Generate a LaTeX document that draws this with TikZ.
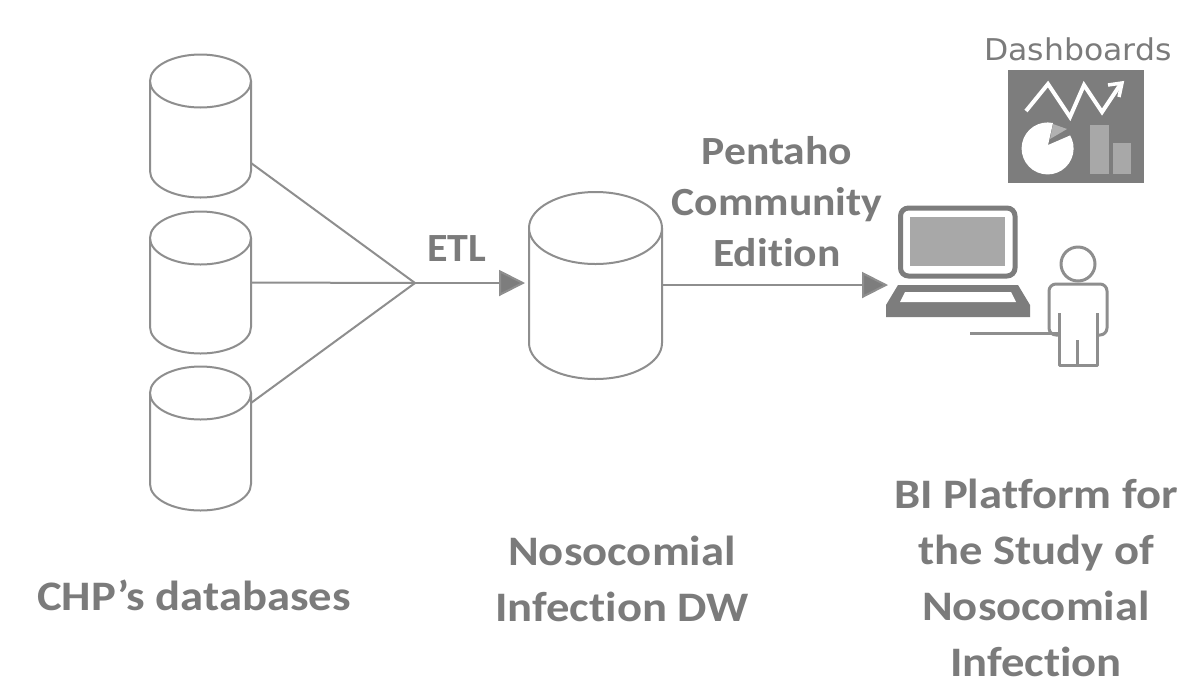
\documentclass[tikz,border=0pt]{standalone}
\usepackage{fontspec}
\setmainfont{Carlito}
\newfontfamily\widefont[FakeStretch=1.11,RawFeature={-liga;-dlig;-clig}]{Carlito}
\newfontfamily\midfont[FakeStretch=1.09,RawFeature={-liga;-dlig;-clig}]{Carlito}
\newfontfamily\etlfont[FakeStretch=1.05]{Carlito}
\newfontfamily\dashfont[FakeStretch=1.05]{DejaVu Sans}
\usetikzlibrary{arrows.meta,calc}
\definecolor{linegray}{HTML}{8E8E8E}
\definecolor{textgray}{HTML}{7B7B7B}
\definecolor{darkgray}{HTML}{7D7D7D}
\definecolor{screengray}{HTML}{A8A8A8}
\tikzset{
  cylbox/.style={inner sep=0pt,outer sep=0pt,minimum width=#1},
  cylline/.style={draw=linegray,line width=2pt,fill=white},
  conn/.style={draw=linegray,line width=2pt},
  connarrow/.style={conn,-{Triangle[length=26pt,width=26pt,fill=darkgray]}},
  boldlabel/.style={font=\widefont\fontsize{42}{56}\selectfont\bfseries,text=textgray,align=center,inner sep=0pt},
  midlabel/.style={font=\midfont\fontsize{40}{51}\selectfont\bfseries,text=textgray,align=center,inner sep=0pt},
  iconline/.style={draw=darkgray,line width=5pt,line join=round},
  personline/.style={draw=linegray,line width=3pt,line join=round},
}
% name, cx, top-ellipse centre y, bottom-ellipse centre y, half width, half height of the ellipse
\newcommand{\dbcyl}[6]{%
  \node[cylbox=#5*2pt,minimum height=#4pt-#3pt] (#1) at (#2,{(#3+#4)/2}) {};
  \draw[cylline] (#2-#5,#3) -- (#2-#5,#4) arc[start angle=180,end angle=360,x radius=#5,y radius=-#6] -- (#2+#5,#3);
  \draw[cylline] (#2,#3) ellipse[x radius=#5,y radius=#6];
}
\begin{document}
\begin{tikzpicture}[x=1pt,y=-1pt]
\useasboundingbox (0,0) rectangle (1196,689);
\fill[white] (0,0) rectangle (1196,689);

% databases
\dbcyl{dbone}{200.5}{81}{171}{50.5}{26.5}
\dbcyl{dbtwo}{200.5}{238}{327}{50.5}{26.5}
\dbcyl{dbthree}{200.5}{393}{484}{50.5}{26.5}
\dbcyl{dw}{595.5}{228}{343}{66.5}{36}

\coordinate (hub) at (415,283);
\coordinate (dboneout) at (251,163);
\coordinate (dbthreeout) at (251,403);

\draw[conn] (dboneout) -- (hub);
\draw[conn] (dbtwo.east) -- (hub);
\draw[conn] (dbthreeout) -- (hub);
\coordinate (dwin) at (525,283);
\draw[connarrow] (hub) -- (dwin);

% laptop
\node[inner sep=0pt,outer sep=0pt,minimum width=145pt,minimum height=112pt] (laptop) at (958,261) {};
\coordinate (laptopin) at (888,285);
\coordinate (dwout) at (662,285);
\draw[connarrow] (dwout) -- (laptopin);
\fill[screengray] (910,217) rectangle (1005,266);
\draw[iconline,rounded corners=8pt] (900.5,276) -- (900.5,208) -- (1015,208) -- (1015,276) -- cycle;
\fill[darkgray] (898,285) -- (1018,285) -- (1030,305) -- (1030,317) -- (886,317) -- (886,305) -- cycle;
\fill[white] (905,292) -- (1011,292) -- (1016,302) -- (900,302) -- cycle;

% person
\node[inner sep=0pt,outer sep=0pt,minimum width=60pt,minimum height=116pt] (person) at (1078,307) {};
\draw[personline] (1078,264) circle[radius=17];
\draw[personline,rounded corners=7pt] (1059,335) -- (1049,335) -- (1049,284) -- (1107,284) -- (1107,335) -- (1097,335);
\draw[personline] (1059,313) -- (1059,365) -- (1097,365) -- (1097,313);
\draw[personline] (1077.5,340) -- (1077.5,365);
\draw[personline] (970,333.5) -- (1059,333.5);

% dashboard icon
\node[fill=darkgray,inner sep=0pt,minimum width=136pt,minimum height=113pt] (dash) at (1076,126.5) {};
\draw[white,line width=4pt,line join=miter] (1026,111) -- (1048,84) -- (1070,117) -- (1084,85) -- (1102,112) -- (1120,85);
\draw[white,line width=3.5pt] (1108,85) -- (1122,83) -- (1119,97);
\fill[white] (1048,145) -- (1053,123) arc[start angle=-78,end angle=-390,radius=26] -- cycle;
\fill[screengray!90!white] (1053,124) -- (1067,129) -- (1050,139) -- cycle;
\fill[screengray] (1090,125) rectangle (1109,174);
\fill[screengray] (1113,143) rectangle (1131,174);

% labels
\node[font=\dashfont\fontsize{30}{34}\selectfont,text=textgray,inner sep=0pt] (dashlabel) at (1078,49) {Dashboards};
\node[font=\etlfont\fontsize{40}{44}\selectfont\bfseries,text=textgray,inner sep=0pt] (etl) at (457,249) {ETL};
\node[midlabel] (pentaho) at (777,202) {Pentaho\\Community\\Edition};
\node[boldlabel] (chp) at (194,595) {CHP’s databases};
\node[boldlabel] (dwlabel) at (622,579) {Nosocomial\\Infection DW};
\node[boldlabel] (bilabel) at (1036,578) {BI Platform for\\the Study of\\Nosocomial\\Infection};
\end{tikzpicture}
\end{document}
